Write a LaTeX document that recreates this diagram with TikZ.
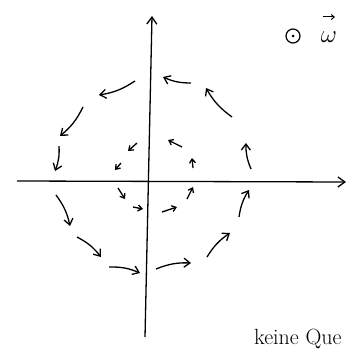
\documentclass[tikz,border=0pt]{standalone}
\usetikzlibrary{arrows.meta}
\begin{document}
\begin{tikzpicture}[x=1pt,y=-1pt,
  axis/.style={line width=1.3pt,-{Straight Barb[length=7pt,width=10pt]}},
  rot/.style={line width=1.3pt,-{Straight Barb[length=6pt,width=9pt]},bend left=12},
  rotsmall/.style={line width=1.3pt,-{Straight Barb[length=4pt,width=6pt]}},
  lab/.style={inner sep=0pt,anchor=base west}]
\path[use as bounding box] (0,0) rectangle (358,350);
\clip (0,0) rectangle (358,350);
% axes
\coordinate (xl) at (17,181);
\coordinate (xr) at (346,182);
\coordinate (yb) at (145,337);
\coordinate (yt) at (152,16);
\draw[axis] (xl) -- (xr);
\draw[axis] (yb) -- (yt);
% outer ring of arrows
\coordinate (o1s) at (135,81);  \coordinate (o1e) at (99,95);
\coordinate (o2s) at (83,107);  \coordinate (o2e) at (60,136);
\coordinate (o3s) at (59,146);  \coordinate (o3e) at (55,171);
\coordinate (o4s) at (56,195);  \coordinate (o4e) at (70,226);
\coordinate (o5s) at (77,237);  \coordinate (o5e) at (101,257);
\coordinate (o6s) at (109,267); \coordinate (o6e) at (140,273);
\coordinate (o7s) at (156,269); \coordinate (o7e) at (191,263);
\coordinate (o8s) at (207,257); \coordinate (o8e) at (230,233);
\coordinate (o9s) at (239,217); \coordinate (o9e) at (249,190);
\coordinate (o10s) at (251,169); \coordinate (o10e) at (246,143);
\coordinate (o11s) at (232,117); \coordinate (o11e) at (206,88);
\coordinate (o12s) at (191,83);  \coordinate (o12e) at (163,77);
\foreach \i in {1,...,12}{\draw[rot] (o\i s) to (o\i e);}
% inner ring of arrows
\coordinate (i1s) at (137,143); \coordinate (i1e) at (128,151);
\coordinate (i2s) at (121,163); \coordinate (i2e) at (115,170);
\coordinate (i3s) at (118,188); \coordinate (i3e) at (125,199);
\coordinate (i4s) at (133,207); \coordinate (i4e) at (143,209);
\coordinate (i5s) at (162,212); \coordinate (i5e) at (177,207);
\coordinate (i6s) at (187,199); \coordinate (i6e) at (193,187);
\coordinate (i7s) at (193,168); \coordinate (i7e) at (192,158);
\coordinate (i8s) at (182,147); \coordinate (i8e) at (168,140);
\foreach \i in {1,...,8}{\draw[rotsmall] (i\i s) -- (i\i e);}
% labels
\node[draw,circle,line width=1.2pt,minimum size=14pt,inner sep=0pt] (dot) at (293,36) {};
\fill (dot.center) circle (1.5pt);
\node[inner sep=0pt] (omega) at (329,37) {\fontsize{30}{34}\selectfont$\omega$};
\coordinate (va) at (323,17);
\coordinate (vb) at (335,17);
\draw[line width=1pt,-{Straight Barb[length=3pt,width=5pt]}] (va) -- (vb);
\node[lab] (note) at (254,344) {\fontsize{22}{26}\selectfont keine Que};
\end{tikzpicture}
\end{document}
